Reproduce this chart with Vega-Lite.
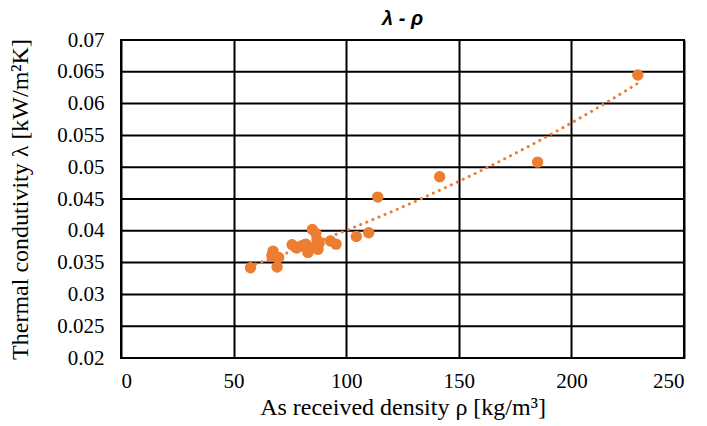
{
  "$schema": "https://vega.github.io/schema/vega-lite/v6.json",
  "width": 563,
  "height": 318,
  "autosize": {"type": "none"},
  "padding": {"left": 121, "top": 40, "right": 23, "bottom": 68},
  "background": "white",
  "title": {
    "text": "λ - ρ",
    "font": "Liberation Sans",
    "fontSize": 20,
    "fontWeight": "bold",
    "fontStyle": "italic",
    "color": "#000000",
    "anchor": "middle",
    "offset": 0
  },
  "config": {
    "view": {"stroke": "#000000", "strokeWidth": 2},
    "axis": {
      "labelFont": "Liberation Serif",
      "labelFontSize": 21,
      "labelColor": "#000000",
      "labelOverlap": false,
      "titleFont": "Liberation Serif",
      "titleFontSize": 24,
      "titleFontWeight": "normal",
      "titleColor": "#000000",
      "gridColor": "#000000",
      "gridWidth": 2,
      "gridOpacity": 1,
      "domain": false,
      "ticks": false
    }
  },
  "datasets": {
    "points": [
      {"rho": 57.5, "lambda": 0.0342},
      {"rho": 67.5, "lambda": 0.0368},
      {"rho": 67, "lambda": 0.0361},
      {"rho": 69.3, "lambda": 0.0343},
      {"rho": 70, "lambda": 0.0358},
      {"rho": 76, "lambda": 0.0378},
      {"rho": 78, "lambda": 0.0373},
      {"rho": 80, "lambda": 0.0376},
      {"rho": 82, "lambda": 0.0379},
      {"rho": 83, "lambda": 0.0366},
      {"rho": 85, "lambda": 0.0402},
      {"rho": 86.5, "lambda": 0.0396},
      {"rho": 87, "lambda": 0.0386},
      {"rho": 88, "lambda": 0.0381},
      {"rho": 85, "lambda": 0.0373},
      {"rho": 87.5, "lambda": 0.0371},
      {"rho": 93, "lambda": 0.0384},
      {"rho": 95.5, "lambda": 0.0379},
      {"rho": 104.5, "lambda": 0.0391},
      {"rho": 110, "lambda": 0.0397},
      {"rho": 114, "lambda": 0.0453},
      {"rho": 141.5, "lambda": 0.0485},
      {"rho": 185, "lambda": 0.0508},
      {"rho": 229.5, "lambda": 0.0645}
    ],
    "gridY": [
      {"lambda": 0.025}, {"lambda": 0.03}, {"lambda": 0.035}, {"lambda": 0.04},
      {"lambda": 0.045}, {"lambda": 0.05}, {"lambda": 0.055}, {"lambda": 0.06}, {"lambda": 0.065}
    ]
  },
  "layer": [
    {
      "data": {"name": "gridY"},
      "mark": {"type": "rule", "color": "#000000", "strokeWidth": 2},
      "encoding": {
        "y": {
          "field": "lambda",
          "type": "quantitative",
          "scale": {"domain": [0.02, 0.07], "nice": false, "zero": false},
          "axis": {
            "values": [0.02, 0.025, 0.03, 0.035, 0.04, 0.045, 0.05, 0.055, 0.06, 0.065, 0.07],
            "format": ".3~f",
            "grid": false,
            "labelOverlap": false,
            "labelPadding": 17,
            "title": "Thermal condutivity λ [kW/m²K]",
            "titlePadding": 24
          }
        }
      }
    },
    {
      "data": {"name": "points"},
      "transform": [
        {"regression": "lambda", "on": "rho", "method": "exp", "extent": [57, 230]}
      ],
      "mark": {"type": "line", "color": "#ED7D31", "strokeWidth": 3, "strokeDash": [0.1, 6.5], "strokeCap": "round"},
      "encoding": {
        "x": {
          "field": "rho",
          "type": "quantitative",
          "scale": {"domain": [0, 250], "nice": false, "zero": false},
          "axis": {
            "values": [0, 50, 100, 150, 200, 250],
            "format": "d",
            "labelOverlap": false,
            "labelPadding": 12,
            "title": "As received density ρ [kg/m³]",
            "titlePadding": 4
          }
        },
        "y": {
          "field": "lambda",
          "type": "quantitative",
          "scale": {"domain": [0.02, 0.07], "nice": false, "zero": false},
          "axis": {
            "values": [0.02, 0.025, 0.03, 0.035, 0.04, 0.045, 0.05, 0.055, 0.06, 0.065, 0.07],
            "format": ".3~f",
            "grid": false,
            "labelOverlap": false,
            "labelPadding": 17,
            "title": "Thermal condutivity λ [kW/m²K]",
            "titlePadding": 24
          }
        }
      }
    },
    {
      "data": {"name": "points"},
      "mark": {"type": "circle", "color": "#ED7D31", "opacity": 1, "size": 130},
      "encoding": {
        "x": {
          "field": "rho",
          "type": "quantitative",
          "scale": {"domain": [0, 250], "nice": false, "zero": false},
          "axis": {
            "values": [0, 50, 100, 150, 200, 250],
            "format": "d",
            "labelOverlap": false,
            "labelPadding": 12,
            "title": "As received density ρ [kg/m³]",
            "titlePadding": 4
          }
        },
        "y": {
          "field": "lambda",
          "type": "quantitative",
          "scale": {"domain": [0.02, 0.07], "nice": false, "zero": false},
          "axis": {
            "values": [0.02, 0.025, 0.03, 0.035, 0.04, 0.045, 0.05, 0.055, 0.06, 0.065, 0.07],
            "format": ".3~f",
            "grid": false,
            "labelOverlap": false,
            "labelPadding": 17,
            "title": "Thermal condutivity λ [kW/m²K]",
            "titlePadding": 24
          }
        }
      }
    }
  ]
}
